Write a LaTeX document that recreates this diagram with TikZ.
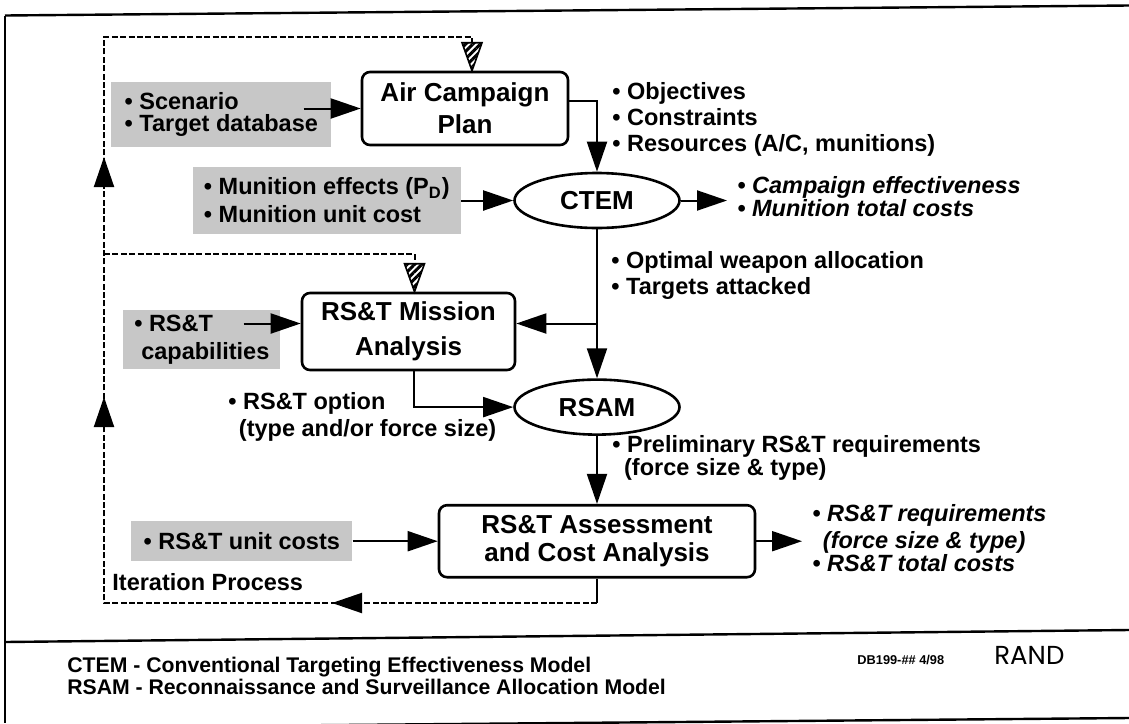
\documentclass[tikz,border=0pt]{standalone}
\usepackage{fontspec}
\setmainfont{Liberation Sans}
\newfontfamily\randfont{Poppins}
\usetikzlibrary{positioning,shapes.geometric,arrows.meta,patterns.meta,decorations.markings}

\tikzset{
  proc/.style={draw, line width=1.3pt, rounded corners=4pt, align=center, inner sep=0pt,
    font=\bfseries\fontsize{13}{13}\selectfont},
  model/.style={draw, ellipse, line width=1.3pt, inner sep=0pt,
    minimum width=82.5pt, minimum height=27.5pt, font=\bfseries\fontsize{13}{13}\selectfont},
  given/.style={fill=black!22, align=left, inner sep=0pt,
    font=\bfseries\fontsize{11.75}{11}\selectfont},
  note/.style={align=left, inner sep=0pt, anchor=west,
    font=\bfseries\fontsize{11.75}{13}\selectfont},
  result/.style={note, font=\bfseries\itshape\fontsize{11.75}{11.5}\selectfont},
  flow/.style={-{Triangle[length=15pt,width=10pt]}, line width=1pt},
  iter/.style={line width=1pt, dash pattern=on 3pt off 1.2pt},
  hatch/.style={draw, line width=0.8pt, pattern={Lines[angle=45,distance=2.6pt,line width=1.5pt]}},
  frame/.style={line width=1.2pt},
}

\begin{document}
\begin{tikzpicture}[x=0.5pt,y=-0.5pt]
\useasboundingbox (0,0) rectangle (1129,723);

  % frame
  \draw[frame] (5,15.5) -- (1129,5.5);
  \draw[frame] (5,15.5) -- (5,723);
  \draw[frame] (5,642) -- (1129,630);
  \draw[frame] (5,728) -- (1129,718);

  % models and analyses
  \node[proc, minimum width=103pt, minimum height=36.5pt] (acp) at (465,108.5) {Air Campaign\\[3pt]Plan}; %
  \node[model] (ctem) at (597,200.5) {CTEM}; %
  \node[proc, minimum width=106.5pt, minimum height=38.5pt] (rma) at (408.5,331.5) {RS\&T Mission\\[4.5pt]Analysis}; %
  \node[model, below=74.5pt of ctem] (rsam) {RSAM}; %
  \node[proc, minimum width=158pt, minimum height=36pt, below=34pt of rsam] (rac) {RS\&T Assessment\\[1pt]and Cost Analysis}; %

  % inputs
  \node[given, minimum width=110pt, minimum height=32.5pt, left=14.5pt of acp, yshift=-3pt] (scen) {• Scenario\\• Target database}; %
  \node[given, minimum width=134pt, minimum height=33.5pt, left=26pt of ctem] (mun) {• Munition effects (P\textsubscript{D})\\[3pt]• Munition unit cost}; %
  \node[given, minimum width=78.5pt, minimum height=29.5pt, left=10pt of rma, yshift=-4pt] (cap) {• RS\&T\\[3pt]\hspace*{0.3em}capabilities}; %
  \node[given, minimum width=110.5pt, minimum height=20pt, left=42.5pt of rac] (ucost) {• RS\&T unit costs}; %

  % labels
  \node[note] (goals) at (612,119) {• Objectives\\• Constraints\\• Resources (A/C, munitions)}; %
  \node[result] (ctemres) at (737,197) {• Campaign effectiveness\\• Munition total costs}; %
  \node[note] (alloc) at (611,275) {• Optimal weapon allocation\\• Targets attacked}; %
  \node[note] (opt) at (228,417) {• RS\&T option\\[0.5pt]\hspace*{0.45em}(type and/or force size)}; %
  \node[note] (prelim) at (612,458) {• Preliminary RS\&T requirements\\[-1.5pt]\hspace*{0.5em}(force size \& type)}; %
  \node[result] (racres) at (812,538) {• RS\&T requirements\\[2pt]\hspace*{0.45em}(force size \& type)\\• RS\&T total costs}; %
  \node[note] (itp) at (112,582) {Iteration Process}; %

  % footer
  \node[note, font=\bfseries\fontsize{10.6}{11}\selectfont] (legend) at (67,676) {CTEM - Conventional Targeting Effectiveness Model\\RSAM - Reconnaissance and Surveillance Allocation Model}; %
  \node[note, font=\bfseries\fontsize{6.4}{7}\selectfont] (dbref) at (857,660) {DB199-\#\# 4/98}; %
  \node[note, font=\randfont\fontsize{13}{13}\selectfont] (rand) at (994,655) {RAND}; %

  % ports
  \coordinate (scenport) at ([xshift=-14pt]scen.east);
  \coordinate (capport) at ([xshift=-18.5pt]cap.east);
  \coordinate (rmaport) at ([yshift=4pt]rma.east);
  \coordinate (ctemtip) at ([xshift=-5pt]ctemres.west);
  \coordinate (racrestip) at ([xshift=-5pt]racres.west);

  % flows
  \draw[flow] (scenport |- acp.west) -- (acp.west); %
  \draw[flow] ([yshift=4pt]acp.east) -| (ctem.north); %
  \draw[flow] (mun.east) -- (ctem.west); %
  \draw[flow] (ctem.east) -- (ctem.east -| ctemtip); %
  \draw[flow] (ctem.south) -- (rsam.north); %
  \draw[flow] (rmaport -| ctem.south) -- (rmaport); %
  \draw[flow] (capport |- rmaport) -- (rmaport -| rma.west); %
  \draw[flow] ([xshift=2.5pt]rma.south) |- (rsam.west); %
  \draw[flow] (rsam.south) -- (rac.north); %
  \draw[flow] (ucost.east) -- (rac.west); %
  \draw[flow] (rac.east) -- (rac.east -| racrestip); %

  % iteration loop
  \coordinate (lb) at (104,603);
  \coordinate (lm) at (104,254);
  \coordinate (lt) at (104,37);
  \coordinate (acpin) at ([xshift=3.5pt]acp.north);
  \coordinate (rmain) at ([xshift=3pt]rma.north);
  \draw[line width=1pt] (rac.south) -- (rac.south |- lb); %
  \draw[iter, postaction={solid, decorate}, decoration={markings,
      mark=at position 132.5pt with {\arrow{Triangle[length=15pt,width=10pt]}},
      mark=at position 349.5pt with {\arrow{Triangle[length=15pt,width=10pt]}},
      mark=at position 469.5pt with {\arrow{Triangle[length=15pt,width=10pt]}}}]
    (rac.south |- lb) -- (lb) -- (lt) -- (acpin |- lt) -- ([yshift=14pt]acpin); %
  \draw[iter] (lm) -- (rmain |- lm) -- ([yshift=14pt]rmain); %
  \draw[hatch] (acpin) -- ++(-10,-28) -- ++(20,0) -- cycle; %
  \draw[hatch] (rmain) -- ++(-10,-28) -- ++(20,0) -- cycle; %

\end{tikzpicture}
\end{document}
